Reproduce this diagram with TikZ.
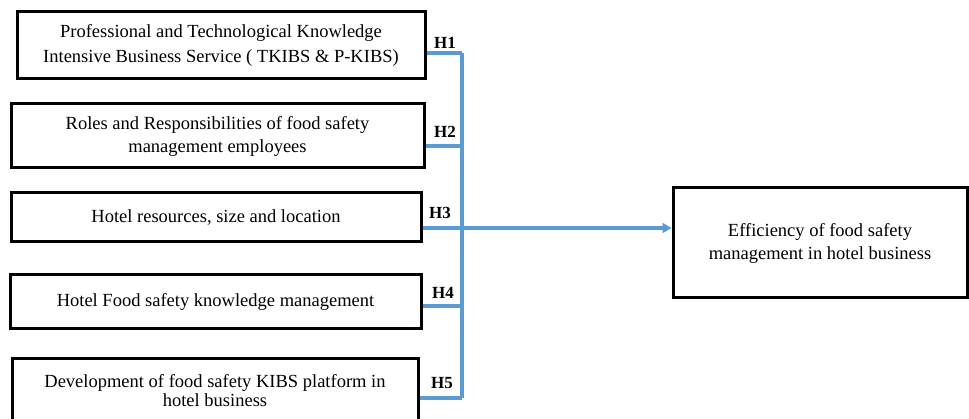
\documentclass[tikz,border=0pt]{standalone}
\usepackage{fontspec}
\setmainfont{Liberation Serif}
\usetikzlibrary{arrows.meta}
\definecolor{linkblue}{RGB}{91,155,213}
\begin{document}
\begin{tikzpicture}[x=1pt,y=-1pt,
  box/.style={draw=black, line width=3pt, rectangle, inner sep=0pt, align=center,
    font=\fontsize{18.5}{23}\selectfont},
  conn/.style={draw=linkblue, line width=3.2pt},
  hlabel/.style={font=\fontsize{17}{17}\selectfont\bfseries, inner sep=0pt}]
\useasboundingbox (0,0) rectangle (969,419);
\node[box, minimum width=408pt, minimum height=67pt, font=\fontsize{18.5}{25}\selectfont] (b1) at (221,45.5)
  {Professional and Technological Knowledge\\Intensive Business Service ( TKIBS \& P-KIBS)};
\node[box, minimum width=413pt, minimum height=64pt] (b2) at (217.5,136)
  {Roles and Responsibilities of food safety\\management employees};
\node[box, minimum width=410pt, minimum height=49pt] (b3) at (216,217.5)
  {Hotel resources, size and location};
\node[box, minimum width=411pt, minimum height=54pt] (b4) at (215.5,302)
  {Hotel Food safety knowledge management};
\node[box, minimum width=406pt, minimum height=66pt, font=\fontsize{18.5}{20}\selectfont] (b5) at (215,392)
  {\raisebox{3pt}{\shortstack{Development of food safety KIBS platform in\\[0pt]hotel business}}};
\node[box, minimum width=294pt, minimum height=110pt] (out) at (820,243)
  {Efficiency of food safety\\management in hotel business};
\coordinate (j1) at (462,53);
\coordinate (j2) at (462,146);
\coordinate (j3) at (462,228);
\coordinate (j4) at (462,306);
\coordinate (j5) at (462,398);
\draw[conn] (j1) -- (j5);
\draw[conn] (b1.east |- j1) -- (j1);
\draw[conn] (b2.east |- j2) -- (j2);
\draw[conn] (b4.east |- j4) -- (j4);
\draw[conn] (b5.east |- j5) -- (j5);
\draw[conn, -{Triangle[length=9pt,width=10pt]}] (b3.east |- j3) -- (out.west |- j3);
\node[hlabel] (h1) at (445,43) {H1};
\node[hlabel] (h2) at (445,132) {H2};
\node[hlabel] (h3) at (440,213) {H3};
\node[hlabel] (h4) at (443,293) {H4};
\node[hlabel] (h5) at (442,383) {H5};
\end{tikzpicture}
\end{document}
